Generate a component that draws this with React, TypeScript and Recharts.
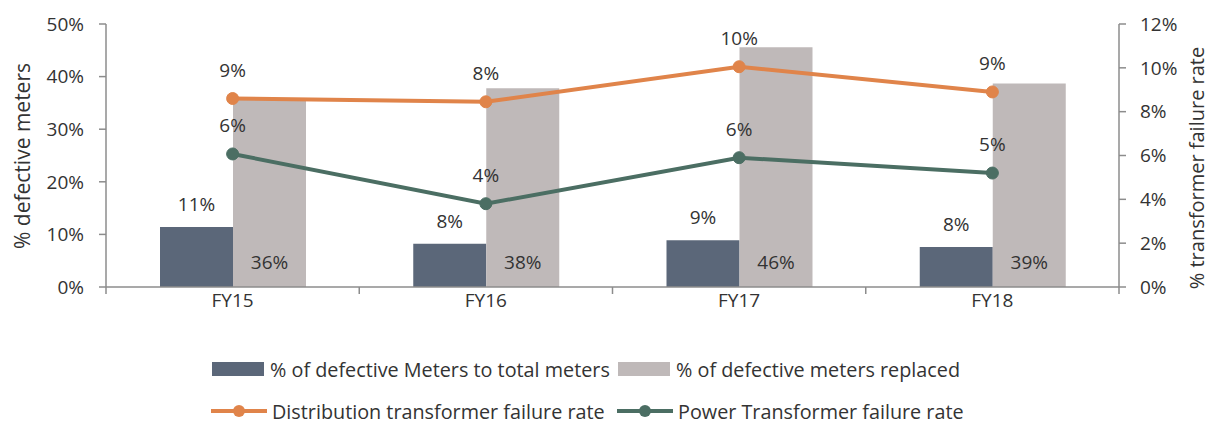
import { Bar, ComposedChart, LabelList, Line, XAxis, YAxis } from 'recharts'

const categories = ['FY15', 'FY16', 'FY17', 'FY18']
const defectiveMeters = [11.4, 8.2, 8.9, 7.6]
const metersReplaced = [35.6, 37.8, 45.6, 38.7]
const distributionFailure = [8.6, 8.45, 10.05, 8.9]
const powerFailure = [6.07, 3.8, 5.9, 5.2]
const leftTicks = [0, 10, 20, 30, 40, 50]
const rightTicks = [0, 2, 4, 6, 8, 10, 12]

const series = [
  { key: 'meters', name: '% of defective Meters to total meters', color: '#5b6779', kind: 'bar' },
  { key: 'replaced', name: '% of defective meters replaced', color: '#bfb9b9', kind: 'bar' },
  { key: 'distribution', name: 'Distribution transformer failure rate', color: '#e0844a', kind: 'line' },
  { key: 'power', name: 'Power Transformer failure rate', color: '#4b6e63', kind: 'line' },
]

const data = categories.map((cat, i) => ({
  cat,
  meters: defectiveMeters[i],
  replaced: metersReplaced[i],
  distribution: distributionFailure[i],
  power: powerFailure[i],
}))

const FONT = '"Open Sans", "Noto Sans", sans-serif'
const TEXT = '#333'
const AXIS = '#8c8c8c'
const PLOT_LEFT = 106
const PLOT_RIGHT = 1119
const BAND = (PLOT_RIGHT - PLOT_LEFT) / categories.length

const pct = (v: any) => `${Math.round(Number(v))}%`

function CategoryTick(props: any) {
  const { x, y, payload, index } = props
  const last = index === categories.length - 1
  return (
    <g>
      <line x1={x - BAND / 2} x2={x - BAND / 2} y1={y} y2={y + 7} stroke={AXIS} strokeWidth={1.5} />
      {last && <line x1={x + BAND / 2} x2={x + BAND / 2} y1={y} y2={y + 7} stroke={AXIS} strokeWidth={1.5} />}
      <text x={x} y={y + 13} dy="0.36em" textAnchor="middle" fill={TEXT} fontSize={19}>
        {payload.value}
      </text>
    </g>
  )
}

function LegendIcon({ color, kind }: { color: string; kind: string }) {
  if (kind === 'bar') {
    return (
      <svg width={54} height={16} style={{ display: 'block' }}>
        <rect x={1} y={1} width={52} height={14} fill={color} />
      </svg>
    )
  }
  return (
    <svg width={56} height={16} style={{ display: 'block' }}>
      <line x1={0} x2={56} y1={8} y2={8} stroke={color} strokeWidth={4} />
      <circle cx={28} cy={8} r={6} fill={color} />
    </svg>
  )
}

export default function App() {
  return (
    <div
      style={{
        position: 'absolute',
        left: 0,
        top: 0,
        width: 1211,
        height: 423,
        background: '#fff',
        fontFamily: FONT,
        color: TEXT,
        overflow: 'hidden',
      }}
    >
      <ComposedChart
        width={1211}
        height={320}
        data={data}
        margin={{ top: 24, right: 0, left: 0, bottom: 0 }}
        barCategoryGap={54}
        barGap={0}
      >
        <XAxis
          dataKey="cat"
          height={33}
          axisLine={{ stroke: AXIS, strokeWidth: 1.5 }}
          tickLine={false}
          tickSize={0}
          tickMargin={0}
          tick={<CategoryTick />}
          interval={0}
        />
        <YAxis
          yAxisId="left"
          width={106}
          domain={[0, 50]}
          ticks={leftTicks}
          tickFormatter={(v) => `${v}%`}
          axisLine={{ stroke: AXIS, strokeWidth: 1.5 }}
          tickLine={{ stroke: AXIS, strokeWidth: 1.5 }}
          tickSize={7}
          tickMargin={15}
          tick={{ fill: TEXT, fontSize: 19 }}
        />
        <YAxis
          yAxisId="right"
          orientation="right"
          width={92}
          domain={[0, 12]}
          ticks={rightTicks}
          tickFormatter={(v) => `${v}%`}
          axisLine={{ stroke: AXIS, strokeWidth: 1.5 }}
          tickLine={{ stroke: AXIS, strokeWidth: 1.5 }}
          tickSize={7}
          tickMargin={14}
          tick={{ fill: TEXT, fontSize: 19, textAnchor: 'start' }}
        />
        <Bar yAxisId="left" dataKey="meters" fill="#5b6779" isAnimationActive={false}>
          <LabelList dataKey="meters" position="top" offset={16} formatter={pct} fill={TEXT} fontSize={19} />
        </Bar>
        <Bar yAxisId="left" dataKey="replaced" fill="#bfb9b9" isAnimationActive={false}>
          <LabelList dataKey="replaced" position="insideBottom" offset={18} formatter={pct} fill={TEXT} fontSize={19} />
        </Bar>
        <Line
          yAxisId="right"
          dataKey="distribution"
          stroke="#e0844a"
          strokeWidth={4}
          dot={{ r: 6, fill: '#e0844a', stroke: '#e0844a', strokeWidth: 1 }}
          isAnimationActive={false}
        >
          <LabelList dataKey="distribution" position="top" offset={22} formatter={pct} fill={TEXT} fontSize={19} />
        </Line>
        <Line
          yAxisId="right"
          dataKey="power"
          stroke="#4b6e63"
          strokeWidth={4}
          dot={{ r: 6, fill: '#4b6e63', stroke: '#4b6e63', strokeWidth: 1 }}
          isAnimationActive={false}
        >
          <LabelList dataKey="power" position="top" offset={22} formatter={pct} fill={TEXT} fontSize={19} />
        </Line>
      </ComposedChart>

      <svg width={1211} height={320} style={{ position: 'absolute', left: 0, top: 0, pointerEvents: 'none' }}>
        <text
          x={22}
          y={156}
          transform="rotate(-90 22 156)"
          textAnchor="middle"
          dominantBaseline="central"
          fill={TEXT}
          fontSize={21}
        >
          % defective meters
        </text>
        <text
          x={1196}
          y={168}
          transform="rotate(-90 1196 168)"
          textAnchor="middle"
          dominantBaseline="central"
          fill={TEXT}
          fontSize={20}
        >
          % transformer failure rate
        </text>
      </svg>

      {series.map((s, i) => (
        <div
          key={s.key}
          style={{
            position: 'absolute',
            left: 211 + (i % 2) * 406,
            top: (i < 2 ? 369 : 411) - 13,
            height: 26,
            display: 'flex',
            alignItems: 'center',
            gap: 5,
            fontSize: 19.8,
            whiteSpace: 'nowrap',
          }}
        >
          <LegendIcon color={s.color} kind={s.kind} />
          <span>{s.name}</span>
        </div>
      ))}
    </div>
  )
}
